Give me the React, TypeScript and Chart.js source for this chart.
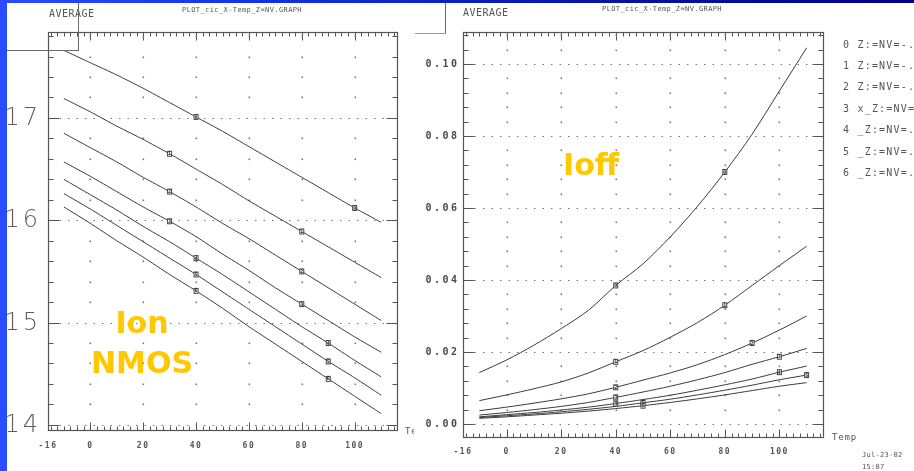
import React, { useEffect, useRef } from "react";
import { Chart, registerables } from "chart.js";

Chart.register(...registerables);

// ---------- data ----------
const temps = [-10, 0, 10, 20, 30, 40, 50, 60, 70, 80, 90, 100, 110];
const legendLabels = [
  "0 Z:=NV=-.6",
  "1 Z:=NV=-.4",
  "2 Z:=NV=-.2",
  "3 x_Z:=NV=0",
  "4 _Z:=NV=.2",
  "5 _Z:=NV=.4",
  "6 _Z:=NV=.6",
];
const xTickValues = [-16, 0, 20, 40, 60, 80, 100];
const ionTickValues = [14, 15, 16, 17];
const ioffTickValues = [0, 0.02, 0.04, 0.06, 0.08, 0.1];

const ion0 = [17.66, 17.54, 17.42, 17.29, 17.15, 17.01, 16.87, 16.72, 16.57, 16.42, 16.27, 16.12, 15.98];
const ion1 = [17.19, 17.06, 16.92, 16.79, 16.65, 16.5, 16.35, 16.19, 16.04, 15.89, 15.74, 15.59, 15.44];
const ion2 = [16.85, 16.71, 16.57, 16.42, 16.28, 16.13, 15.97, 15.82, 15.66, 15.5, 15.34, 15.18, 15.02];
const ion3 = [16.57, 16.43, 16.28, 16.13, 15.99, 15.84, 15.67, 15.51, 15.34, 15.18, 15.02, 14.86, 14.71];
const ion4 = [16.4, 16.25, 16.1, 15.94, 15.79, 15.63, 15.47, 15.3, 15.13, 14.96, 14.8, 14.63, 14.47];
const ion5 = [16.26, 16.11, 15.95, 15.79, 15.63, 15.47, 15.3, 15.13, 14.96, 14.79, 14.62, 14.46, 14.29];
const ion6 = [16.13, 15.97, 15.8, 15.64, 15.47, 15.31, 15.14, 14.96, 14.79, 14.62, 14.45, 14.28, 14.11];

const ioff0 = [0.0143, 0.0178, 0.0219, 0.0265, 0.0316, 0.0385, 0.0445, 0.052, 0.0605, 0.07, 0.0805, 0.0925, 0.1045];
const ioff1 = [0.0065, 0.0081, 0.0098, 0.0117, 0.0142, 0.0173, 0.0204, 0.0241, 0.0282, 0.033, 0.0385, 0.044, 0.0494];
const ioff2 = [0.0037, 0.0047, 0.0058, 0.007, 0.0084, 0.0102, 0.0122, 0.0142, 0.0165, 0.0193, 0.0225, 0.0261, 0.03];
const ioff3 = [0.0025, 0.0032, 0.004, 0.0049, 0.006, 0.0074, 0.0089, 0.0105, 0.0123, 0.0143, 0.0166, 0.0187, 0.021];
const ioff4 = [0.002, 0.0026, 0.0032, 0.0039, 0.0047, 0.0057, 0.0068, 0.008, 0.0094, 0.0109, 0.0125, 0.0144, 0.0161];
const ioff5 = [0.0018, 0.0023, 0.0028, 0.0034, 0.0041, 0.0049, 0.0059, 0.0069, 0.0081, 0.0094, 0.0108, 0.0123, 0.0136];
const ioff6 = [0.0016, 0.002, 0.0025, 0.003, 0.0036, 0.0043, 0.0051, 0.006, 0.007, 0.0081, 0.0093, 0.0105, 0.0115];

const ionSeries = [ion0, ion1, ion2, ion3, ion4, ion5, ion6];
const ioffSeries = [ioff0, ioff1, ioff2, ioff3, ioff4, ioff5, ioff6];

// indices of the data points that carry the small curve-number marks
const ionMarkIdx = [[5, 11], [4, 9], [4, 9], [4, 9], [5, 10], [5, 10], [5, 10]];
const ioffMarkIdx = [[5, 9], [5, 9], [5, 10], [5, 11], [5, 11], [6, 12], [6]];

// ---------- plugin: HP-plot style frame, ticks, dotted grid, labels ----------
const MONO = '"DejaVu Sans Mono", "Liberation Mono", monospace';

function isMultiple(v: number, step: number) {
  const r = v / step;
  return Math.abs(r - Math.round(r)) < 1e-6;
}

const plotDecor = {
  id: "plotDecor",
  beforeDatasetsDraw(chart: any, _args: any, o: any) {
    const { ctx, chartArea: a } = chart;
    const xs = chart.scales.x;
    const ys = chart.scales.y;
    const L = Math.round(a.left) + 0.5;
    const R = Math.round(a.right) + 0.5;
    const T = Math.round(a.top) + 0.5;
    const B = Math.round(a.bottom) + 0.5;
    ctx.save();
    ctx.strokeStyle = "#555";
    ctx.lineWidth = 1.2;
    ctx.strokeRect(L, T, R - L, B - T);

    ctx.lineWidth = 1;
    // x ticks (inward, top and bottom)
    ctx.beginPath();
    const kx0 = Math.ceil(xs.min / o.xMinor);
    const kx1 = Math.floor(xs.max / o.xMinor);
    for (let k = kx0; k <= kx1; k++) {
      const v = k * o.xMinor;
      const px = Math.round(xs.getPixelForValue(v)) + 0.5;
      const len = isMultiple(v, o.xMajor) ? 8 : 4;
      ctx.moveTo(px, B);
      ctx.lineTo(px, B - len);
      ctx.moveTo(px, T);
      ctx.lineTo(px, T + len);
    }
    // y ticks (inward, left and right)
    const ky0 = Math.ceil(ys.min / o.yMinor - 1e-9);
    const ky1 = Math.floor(ys.max / o.yMinor + 1e-9);
    for (let k = ky0; k <= ky1; k++) {
      const v = k * o.yMinor;
      const py = Math.round(ys.getPixelForValue(v)) + 0.5;
      const len = isMultiple(v, o.yMajor) ? 11 : 5;
      ctx.moveTo(L, py);
      ctx.lineTo(L + len, py);
      ctx.moveTo(R, py);
      ctx.lineTo(R - len, py);
    }
    ctx.stroke();

    // dotted major horizontal lines
    ctx.strokeStyle = "#777";
    ctx.setLineDash([1.5, 7]);
    ctx.beginPath();
    for (let k = ky0; k <= ky1; k++) {
      const v = k * o.yMinor;
      if (!isMultiple(v, o.yMajor)) continue;
      const py = Math.round(ys.getPixelForValue(v)) + 0.5;
      ctx.moveTo(L + 11, py);
      ctx.lineTo(R - 11, py);
    }
    ctx.stroke();
    ctx.setLineDash([]);

    // dots at x-major / y-minor crossings
    ctx.fillStyle = "#777";
    const kxm0 = Math.ceil(xs.min / o.xMajor);
    const kxm1 = Math.floor(xs.max / o.xMajor);
    for (let kx = kxm0; kx <= kxm1; kx++) {
      const px = xs.getPixelForValue(kx * o.xMajor);
      if (px < a.left + 4 || px > a.right - 4) continue;
      for (let k = ky0; k <= ky1; k++) {
        const v = k * o.yMinor;
        if (isMultiple(v, o.yMajor)) continue;
        const py = ys.getPixelForValue(v);
        ctx.fillRect(Math.round(px) - 0.5, Math.round(py) - 0.5, 1.6, 1.6);
      }
    }
    ctx.restore();
  },
  afterDatasetsDraw(chart: any, _args: any, o: any) {
    const { ctx } = chart;
    ctx.save();
    // curve number marks
    ctx.font = `bold 5px ${MONO}`;
    ctx.textAlign = "center";
    ctx.textBaseline = "middle";
    (o.marks || []).forEach((idxs: number[], di: number) => {
      const meta = chart.getDatasetMeta(di);
      idxs.forEach((idx) => {
        const el = meta.data[idx];
        if (!el) return;
        ctx.fillStyle = "#fff";
        ctx.fillRect(el.x - 2, el.y - 2.5, 4, 5);
        ctx.strokeStyle = "#333";
        ctx.lineWidth = 0.9;
        ctx.strokeRect(el.x - 2, el.y - 2.5, 4, 5);
        ctx.fillStyle = "#222";
        ctx.fillText(String(di), el.x, el.y + 0.3);
      });
    });
    ctx.restore();
  },
  afterDraw(chart: any, _args: any, o: any) {
    const { ctx, chartArea: a } = chart;
    const xs = chart.scales.x;
    const ys = chart.scales.y;
    const c = ctx as any;
    ctx.save();
    // y tick labels
    ctx.fillStyle = o.yColor;
    ctx.font = o.yFont;
    c.letterSpacing = o.yLS;
    ctx.textAlign = "right";
    ctx.textBaseline = "middle";
    ys.ticks.forEach((t: any) => {
      ctx.fillText(o.yFmt(t.value), a.left - o.yPad, ys.getPixelForValue(t.value) + o.yShift);
    });
    // x tick labels
    ctx.fillStyle = "#555";
    ctx.font = o.xFont;
    c.letterSpacing = o.xLS;
    ctx.textAlign = "center";
    xs.ticks.forEach((t: any) => {
      ctx.fillText(String(t.value), xs.getPixelForValue(t.value), a.bottom + o.xPad);
    });
    // free texts
    (o.texts || []).forEach((t: any) => {
      ctx.font = t.font;
      ctx.fillStyle = t.color || "#555";
      c.letterSpacing = t.ls || "0px";
      ctx.textAlign = t.align || "left";
      ctx.textBaseline = t.baseline || "middle";
      ctx.fillText(t.text, t.x, t.y);
    });
    // legend
    if (o.legend) {
      ctx.font = `10px ${MONO}`;
      ctx.fillStyle = "#555";
      c.letterSpacing = "1.2px";
      ctx.textAlign = "left";
      ctx.textBaseline = "middle";
      chart.data.datasets.forEach((ds: any, i: number) => {
        ctx.fillText(ds.label, o.legend.x, o.legend.y + i * o.legend.dy);
      });
    }
    c.letterSpacing = "0px";
    ctx.restore();
  },
};

function makeDatasets(series: number[][], tension: number) {
  return series.map((s, i) => ({
    label: legendLabels[i],
    data: temps.map((t, j) => ({ x: t, y: s[j] })),
    borderColor: "#3c3c3c",
    borderWidth: 1,
    pointRadius: 0,
    tension,
    fill: false,
  }));
}

function baseScales(yMin: number, yMax: number, yTicks: number[], yWidth: number, xHeight: number) {
  return {
    x: {
      type: "linear",
      min: -16,
      max: 116,
      afterBuildTicks: (s: any) => {
        s.ticks = xTickValues.map((value) => ({ value }));
      },
      afterFit: (s: any) => {
        s.height = xHeight;
      },
      ticks: { display: false },
      grid: { display: false },
      border: { display: false },
    },
    y: {
      type: "linear",
      min: yMin,
      max: yMax,
      afterBuildTicks: (s: any) => {
        s.ticks = yTicks.map((value) => ({ value }));
      },
      afterFit: (s: any) => {
        s.width = yWidth;
      },
      ticks: { display: false },
      grid: { display: false },
      border: { display: false },
    },
  };
}

const YELLOW = "#FFC800";
const BIG = '"DejaVu Sans", "Liberation Sans", sans-serif';

function ionConfig(): any {
  return {
    type: "line",
    data: { datasets: makeDatasets(ionSeries, 0.2) },
    plugins: [plotDecor],
    options: {
      responsive: false,
      animation: false,
      events: [],
      layout: { padding: { top: 29, right: 17, left: 0, bottom: 0 } },
      scales: baseScales(13.95, 17.84, ionTickValues, 41, 41),
      plugins: {
        legend: { display: false },
        tooltip: { enabled: false },
        plotDecor: {
          xMinor: 2.5,
          xMajor: 20,
          yMinor: 0.2,
          yMajor: 1,
          yFont: `200 24px ${BIG}`,
          yColor: "#5e5e5e",
          yLS: "3px",
          yPad: 7,
          yShift: 1,
          yFmt: (v: number) => String(v),
          xFont: `bold 8px ${MONO}`,
          xLS: "1.5px",
          xPad: 16,
          marks: ionMarkIdx,
          texts: [
            { text: "AVERAGE", x: 42, y: 11, font: `10px ${MONO}`, ls: "0.5px" },
            { text: "PLOT_cic_X-Temp_Z=NV.GRAPH", x: 235, y: 7, font: `7px ${MONO}`, ls: "0.4px", align: "center" },
            { text: "Temp", x: 398, y: 429, font: `9px ${MONO}`, ls: "0.8px" },
            { text: "Ion", x: 135, y: 330, font: `bold 30px ${BIG}`, color: YELLOW, align: "center", baseline: "alphabetic" },
            { text: "NMOS", x: 135, y: 370, font: `bold 30px ${BIG}`, color: YELLOW, align: "center", baseline: "alphabetic" },
          ],
        },
      },
    },
  };
}

function ioffConfig(): any {
  return {
    type: "line",
    data: { datasets: makeDatasets(ioffSeries, 0.3) },
    plugins: [plotDecor],
    options: {
      responsive: false,
      animation: false,
      events: [],
      layout: { padding: { top: 29, right: 91, left: 0, bottom: 0 } },
      scales: baseScales(-0.0036, 0.1089, ioffTickValues, 49, 34),
      plugins: {
        legend: { display: false },
        tooltip: { enabled: false },
        plotDecor: {
          xMinor: 2.5,
          xMajor: 20,
          yMinor: 0.004,
          yMajor: 0.02,
          yFont: `bold 10px ${MONO}`,
          yColor: "#4a4a4a",
          yLS: "2.5px",
          yPad: 3.5,
          yShift: 0,
          yFmt: (v: number) => v.toFixed(2),
          xFont: `bold 8px ${MONO}`,
          xLS: "1.5px",
          xPad: 15,
          marks: ioffMarkIdx,
          legend: { x: 429, y: 42, dy: 21.4 },
          texts: [
            { text: "AVERAGE", x: 49, y: 10, font: `10px ${MONO}`, ls: "0.5px" },
            { text: "PLOT_cic_X-Temp_Z=NV.GRAPH", x: 248, y: 6, font: `7px ${MONO}`, ls: "0.4px", align: "center" },
            { text: "Temp", x: 418, y: 435, font: `9px ${MONO}`, ls: "0.8px" },
            { text: "Jul-23-02", x: 448, y: 452, font: `7px ${MONO}`, ls: "0.3px" },
            { text: "15:07", x: 448, y: 464, font: `7px ${MONO}`, ls: "0.3px" },
            { text: "Ioff", x: 177, y: 172, font: `bold 30px ${BIG}`, color: YELLOW, align: "center", baseline: "alphabetic" },
          ],
        },
      },
    },
  };
}

export default function App() {
  const leftRef = useRef<HTMLCanvasElement>(null);
  const rightRef = useRef<HTMLCanvasElement>(null);

  useEffect(() => {
    const c1 = new Chart(leftRef.current as HTMLCanvasElement, ionConfig());
    const c2 = new Chart(rightRef.current as HTMLCanvasElement, ioffConfig());
    return () => {
      c1.destroy();
      c2.destroy();
    };
  }, []);

  const line = (l: number, t: number, w: number, h: number, c: string) => (
    <div style={{ position: "absolute", left: l, top: t, width: w, height: h, background: c }} />
  );

  return (
    <div
      style={{
        position: "fixed",
        left: 0,
        top: 0,
        width: 914,
        height: 471,
        overflow: "hidden",
        background: "linear-gradient(to right, #2a4cff 0%, #1434ee 25%, #0718b0 60%, #00008a 100%)",
      }}
    >
      <div style={{ position: "absolute", left: 7, top: 3, width: 907, height: 468, background: "#fff" }} />
      <canvas
        ref={leftRef}
        width={407}
        height={468}
        style={{ position: "absolute", left: 7, top: 3, width: 407, height: 468, display: "block" }}
      />
      <canvas
        ref={rightRef}
        width={500}
        height={468}
        style={{ position: "absolute", left: 414, top: 3, width: 500, height: 468, display: "block", background: "#fff" }}
      />
      {line(78, 3, 1, 48, "#6a6a6a")}
      {line(7, 50, 71, 1, "#6a6a6a")}
      {line(445, 3, 1, 30, "#6a6a6a")}
      {line(415, 33, 31, 1, "#9a9a9a")}
    </div>
  );
}
